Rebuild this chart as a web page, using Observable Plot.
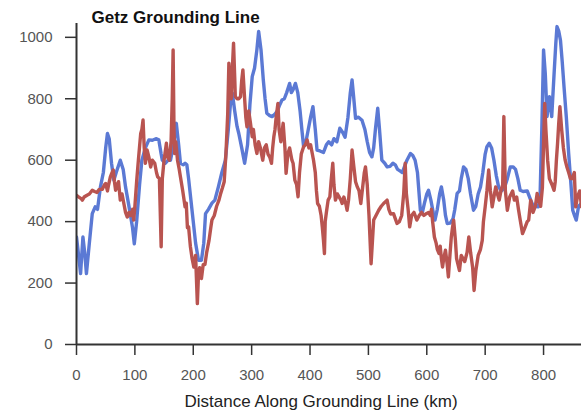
<!DOCTYPE html>
<html>
<head>
<meta charset="utf-8">
<script src="https://cdn.jsdelivr.net/npm/d3@7"></script>
<script src="https://cdn.jsdelivr.net/npm/@observablehq/plot@0.6"></script>
<style>
  html, body { margin: 0; padding: 0; background: #fff; }
  #chart svg { display: block; }
</style>
</head>
<body>
<div id="chart"></div>
<script>
const titleText = "Getz Grounding Line";
const xLabelText = "Distance Along Grounding Line (km)";
const xTicks = [0, 100, 200, 300, 400, 500, 600, 700, 800];
const yTicks = [0, 200, 400, 600, 800, 1000];

const blueKm = [0,3,7,11,14,17,22,27,32,36,41,46,50,53,56,60,64,68,75,80,84,88,92,96,99,103,108,112,118,124,130,136,141,145,147,152,157,161,166,171,175,178,183,186,189,192,196,200,204,209,214,218,221,226,232,237,243,249,255,260,264,267,271,275,278,283,288,293,297,301,305,309,312,316,320,323,326,331,335,340,344,348,352,356,360,365,368,371,375,379,383,386,389,393,397,401,405,409,412,417,423,428,432,437,441,446,451,456,460,465,469,472,475,478,483,489,494,498,502,506,509,512,516,519,523,528,532,537,542,546,550,554,558,562,566,572,576,580,584,589,592,596,600,603,607,611,614,618,622,625,629,632,635,640,645,648,652,656,659,663,667,671,675,680,684,688,692,696,700,703,707,711,715,719,723,728,733,738,743,748,752,756,760,765,772,778,783,787,791,794,797,800,803,806,810,814,818,821,823,826,829,832,835,839,843,847,850,853,856,860,865];
const blueVal = [350,300,231,350,300,231,330,426,448,440,513,560,640,687,670,590,535,560,600,570,513,470,426,380,328,400,520,600,640,666,665,670,666,620,600,590,600,600,650,720,650,590,585,590,585,540,470,400,330,274,274,330,426,440,460,470,513,560,600,700,790,818,760,710,687,640,590,650,780,872,900,960,1019,960,861,800,753,745,742,750,760,780,796,800,820,850,820,830,850,820,760,700,644,660,700,740,774,700,633,630,625,650,660,650,670,660,704,690,675,740,820,861,800,736,740,730,700,660,625,611,640,700,769,700,600,590,578,580,590,585,570,565,560,580,600,622,615,600,560,437,426,460,490,502,470,430,405,440,490,513,470,420,394,395,410,440,492,500,540,578,570,540,490,437,450,490,513,560,620,644,655,640,600,550,513,500,510,540,578,578,570,540,502,498,500,470,448,450,448,480,700,959,880,742,807,742,880,980,1035,1020,990,920,840,740,622,520,437,420,405,450,460];

const redKm = [0,4,8,10,13,18,22,27,31,35,39,44,48,50,53,55,58,61,63,65,67,70,72,75,78,81,84,87,90,93,96,98,100,103,106,110,112,114,116,118,121,124,127,130,134,137,139,142,145,147,150,154,156,159,162,164,165.5,167,168,170,173,176,178,182,186,188,190,192,195,198,201,204,207,209,211,214,217,220,223,227,230,232,236,240,244,247,250,253,256,259,261,263,265,267,269,271,272,275,278,281,283,285,288,290,292,295,298,301,303,306,309,312,315,319,322,325,328,331,334,336,338,340,342,345,347,350,354,357,359,362,365,369,371,374,377,379.5,382,385,389,392,395,398,401,403,406,409,411,413,416,419,421,423,424.7,426,428,431,434,436,439,441,443.5,447,450,453,455,458,461,463.5,466,469,472,475,478,481,484,487,490,493,495,498,501,504.6,507,509,513,517.6,522,526,532,535,538,543,546,549,553,557,560.5,563,565,568,570.7,574,578,583,587,591,595,599,603,606,608,610,613,616,618,621,623,625,627,629,632,635,637,640,642,644,646,649,651,653.5,656,659,662,665,669,672,675,678.6,681,684,688,692,695,697,700,703,706,709,712,715,718,721,724,727,730,732,734.6,738,742,747,750,754,757,760,764,768,772,774.5,778,782,786,789,792,795,798,800,802,804,807,810,814.5,818,820,822,824,826,828,831,834,837,840,843,846,849,852.7,855,858,862,865];
const redVal = [486,480,475,470,480,486,490,502,498,495,505,505,520,524,500,520,546,560,568,530,502,520,530,470,490,460,430,415,430,420,440,405,450,530,600,687,700,731,640,590,633,610,578,600,590,560,546,540,318,540,600,655,610,600,660,800,959,700,622,660,600,570,546,500,448,460,380,383,320,280,252,290,133,231,250,215,260,260,300,339,380,405,420,450,470,492,510,530,622,750,916,850,800,900,981,870,807,800,800,807,860,894,800,740,709,760,720,676,700,650,622,660,640,600,640,650,620,610,590,640,676,700,740,785,700,660,720,640,557,620,640,600,590,535,520,481,560,620,644,650,666,640,650,630,600,560,500,459,450,420,383,340,296,400,430,470,481,530,590,520,470,490,480,470,459,480,460,437,470,540,633,580,530,513,500,459,510,560,578,520,420,263,340,405,420,437,450,459,470,440,425,426,410,394,400,420,492,590,492,440,383,420,430,405,420,430,420,426,430,420,440,400,350,330,310,296,320,280,252,280,307,260,220,300,350,380,405,340,280,260,241,290,280,270,300,350,300,250,176,240,290,310,339,400,448,500,568,500,448,480,513,490,470,500,520,742,500,437,480,500,470,480,440,405,361,380,400,405,470,430,450,492,470,450,510,650,785,700,600,540,520,502,530,600,655,720,774,700,640,600,578,560,540,540,560,448,480,500,448,500];

const blue = blueKm.map((k, i) => ({km: k, v: blueVal[i]}));
const red = redKm.map((k, i) => ({km: k, v: redVal[i]}));

const font = "'Liberation Sans', Arial, Helvetica, sans-serif";

const chart = Plot.plot({
  width: 581,
  height: 413,
  marginLeft: 76,
  marginRight: 0,
  marginTop: 23,
  marginBottom: 69,
  style: {fontFamily: font, background: "#fff", overflow: "visible"},
  x: {domain: [0, 865]},
  y: {domain: [0, 1045]},
  marks: [
    Plot.line(blue, {x: "km", y: "v", stroke: "#5b79d4", strokeWidth: 3.4, strokeLinejoin: "round", clip: true}),
    Plot.line(red, {x: "km", y: "v", stroke: "#b95450", strokeWidth: 3.4, strokeLinejoin: "round", clip: true}),
    Plot.axisX({ticks: xTicks, tickFormat: d3.format("d"), tickSize: 11, tickPadding: 14, fontSize: 15, stroke: "#333", strokeWidth: 1.5, fill: "#555", label: null}),
    Plot.axisY({ticks: yTicks, tickFormat: d3.format("d"), tickSize: 11, tickPadding: 13, fontSize: 15, stroke: "#333", strokeWidth: 1.5, fill: "#555", label: null}),
    Plot.ruleX([0], {stroke: "#333", strokeWidth: 2}),
    Plot.ruleY([0], {stroke: "#333", strokeWidth: 2}),
    Plot.text([titleText], {frameAnchor: "top-left", text: d => d, textAnchor: "start", lineAnchor: "middle", dx: 15, dy: -6, fontSize: 17, fontWeight: "bold", fill: "#111"}),
    Plot.text([xLabelText], {frameAnchor: "bottom", text: d => d, lineAnchor: "middle", dx: -8, dy: 57, fontSize: 17, fill: "#222"})
  ]
});
document.getElementById("chart").appendChild(chart);
</script>
</body>
</html>
